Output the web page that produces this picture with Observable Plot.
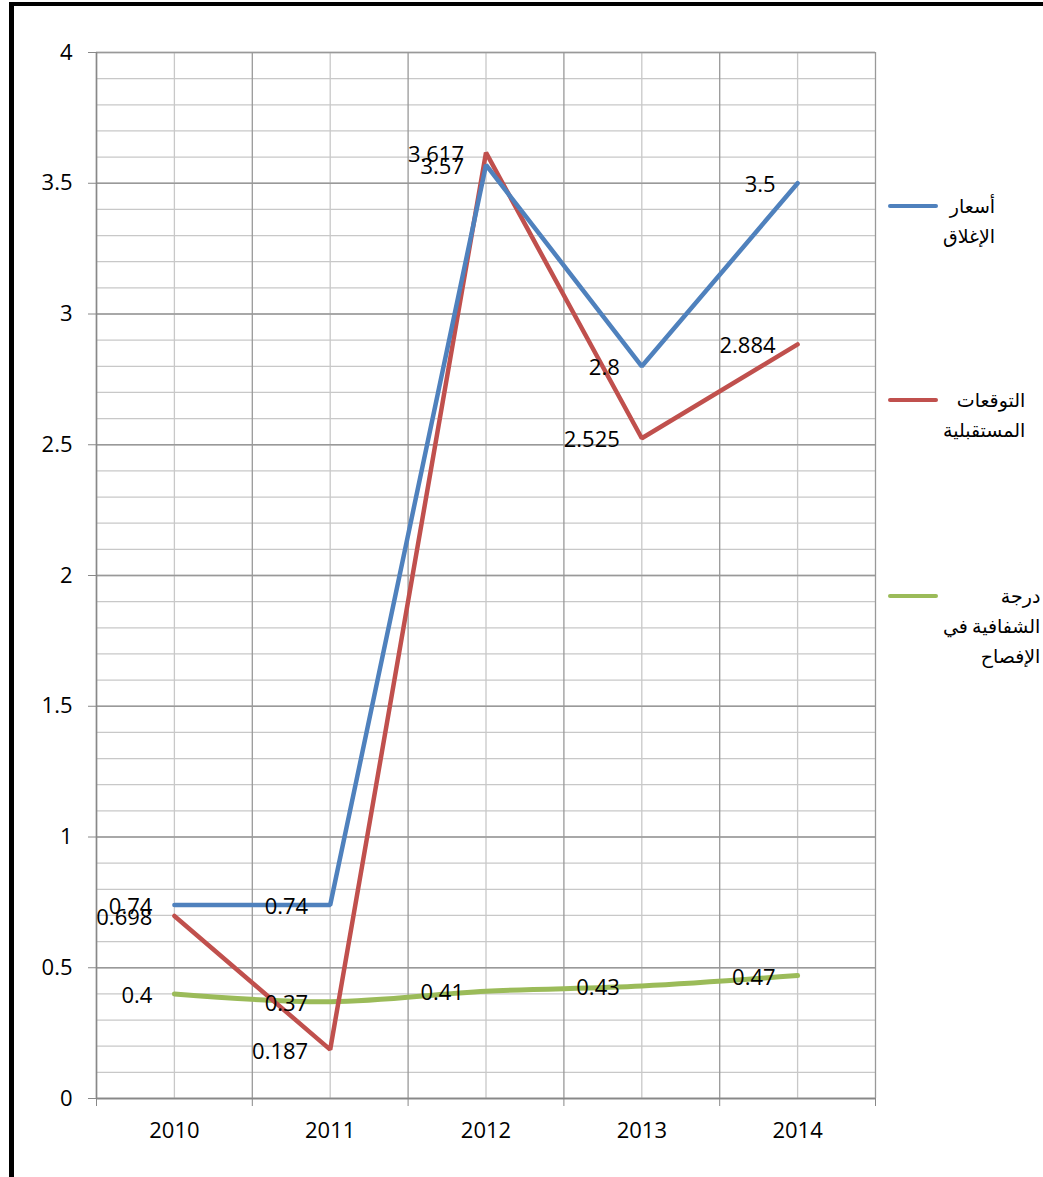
<!DOCTYPE html>
<html>
<head>
<meta charset="utf-8">
<script src="https://cdn.jsdelivr.net/npm/d3@7"></script>
<script src="https://cdn.jsdelivr.net/npm/@observablehq/plot@0.6"></script>
<style>
  html, body { margin: 0; padding: 0; background: #fff; }
  #wrap { position: relative; width: 1043px; height: 1177px; overflow: hidden; background: #fff; }
  #borderTop { position: absolute; left: 9px; top: 2px; width: 1034px; height: 4px; background: #000; }
  #borderLeft { position: absolute; left: 9px; top: 2px; width: 5px; height: 1175px; background: #000; }
  #chart { position: absolute; left: 0; top: 0; }
  .leg { position: absolute; }
  .leg .sw { position: absolute; left: 888px; width: 50px; height: 4px; border-radius: 2px; }
  .leg .tx { position: absolute; left: 943px; direction: rtl; text-align: right; font-family: "DejaVu Sans", "Liberation Sans", sans-serif; font-size: 19px; word-spacing: -2px; line-height: 30px; color: #000; white-space: nowrap; }
</style>
</head>
<body>
<div id="wrap">
  <div id="chart"></div>
  <div id="borderTop"></div>
  <div id="borderLeft"></div>
  <div id="legend"></div>
</div>
<script>
const years = [2010, 2011, 2012, 2013, 2014];
const closingPrices = [0.74, 0.74, 3.57, 2.8, 3.5];
const futureExpectations = [0.698, 0.187, 3.617, 2.525, 2.884];
const disclosureTransparency = [0.4, 0.37, 0.41, 0.43, 0.47];
const seriesNames = ["أسعار الإغلاق", "التوقعات المستقبلية", "درجة الشفافية في الإفصاح"];
const legendLines = [["أسعار", "الإغلاق"], ["التوقعات", "المستقبلية"], ["درجة", "الشفافية في", "الإفصاح"]];
const seriesColors = ["#4F81BD", "#C0504D", "#9BBB59"];
const yTicks = [0, 0.5, 1, 1.5, 2, 2.5, 3, 3.5, 4];

const seriesValues = [closingPrices, futureExpectations, disclosureTransparency];
const data = seriesValues.map((vals, s) => years.map((yr, i) => ({year: yr, value: vals[i], series: seriesNames[s]})));

const minorY = d3.range(0, 41).map(i => i / 10);
const boundaries = d3.range(0, 6).map(i => 2009.5 + i);

const W = 1043, H = 1177;
const chart = Plot.plot({
  width: W,
  height: H,
  marginLeft: 96,
  marginRight: 168,
  marginTop: 52,
  marginBottom: 79,
  style: {fontFamily: "'Open Sans', sans-serif", fontSize: "22px", background: "transparent", overflow: "visible"},
  x: {type: "linear", domain: [2009.5, 2014.5]},
  y: {domain: [0, 4]},
  marks: [
    Plot.gridY(minorY, {stroke: "#c8c8c8", strokeOpacity: 1, strokeWidth: 1.3}),
    Plot.gridX(years, {stroke: "#c8c8c8", strokeOpacity: 1, strokeWidth: 1.3}),
    Plot.gridY(yTicks, {stroke: "#999999", strokeOpacity: 1, strokeWidth: 1.3}),
    Plot.gridX(boundaries, {stroke: "#999999", strokeOpacity: 1, strokeWidth: 1.3}),
    Plot.ruleY([0], {stroke: "#888888", strokeWidth: 1.5}),
    Plot.ruleX([2009.5], {stroke: "#888888", strokeWidth: 1.5}),
    Plot.axisY({ticks: yTicks, tickSize: 8, tickPadding: 16, stroke: "#888888", fontSize: 22, tickFormat: d => String(d), label: null}),
    Plot.axisX({ticks: boundaries, tickSize: 8, stroke: "#888888", tickFormat: () => "", label: null}),
    Plot.axisX({ticks: years, tickSize: 0, tickPadding: 24, fontSize: 22, tickFormat: d => String(d), label: null}),
    Plot.line(data[2], {x: "year", y: "value", stroke: seriesColors[2], strokeWidth: 5, curve: "catmull-rom", strokeLinecap: "round"}),
    Plot.line(data[1], {x: "year", y: "value", stroke: seriesColors[1], strokeWidth: 4.5, strokeLinecap: "round", strokeLinejoin: "miter"}),
    Plot.line(data[0], {x: "year", y: "value", stroke: seriesColors[0], strokeWidth: 4.5, strokeLinecap: "round", strokeLinejoin: "miter"}),
    ...data.map(d => Plot.text(d, {x: "year", y: "value", text: r => String(r.value), textAnchor: "end", dx: -22, dy: 2, fontSize: 22, fill: "#000"}))
  ]
});
document.getElementById("chart").appendChild(chart);

// legend
const legendY = [206, 400, 596];
const leg = document.getElementById("legend");
legendLines.forEach((lines, i) => {
  const g = document.createElement("div");
  g.className = "leg";
  const sw = document.createElement("div");
  sw.className = "sw";
  sw.style.top = (legendY[i] - 2) + "px";
  sw.style.background = seriesColors[i];
  const tx = document.createElement("div");
  tx.className = "tx";
  tx.style.top = (legendY[i] - 15) + "px";
  tx.innerHTML = lines.join("<br>");
  g.appendChild(sw);
  g.appendChild(tx);
  leg.appendChild(g);
});
</script>
</body>
</html>
